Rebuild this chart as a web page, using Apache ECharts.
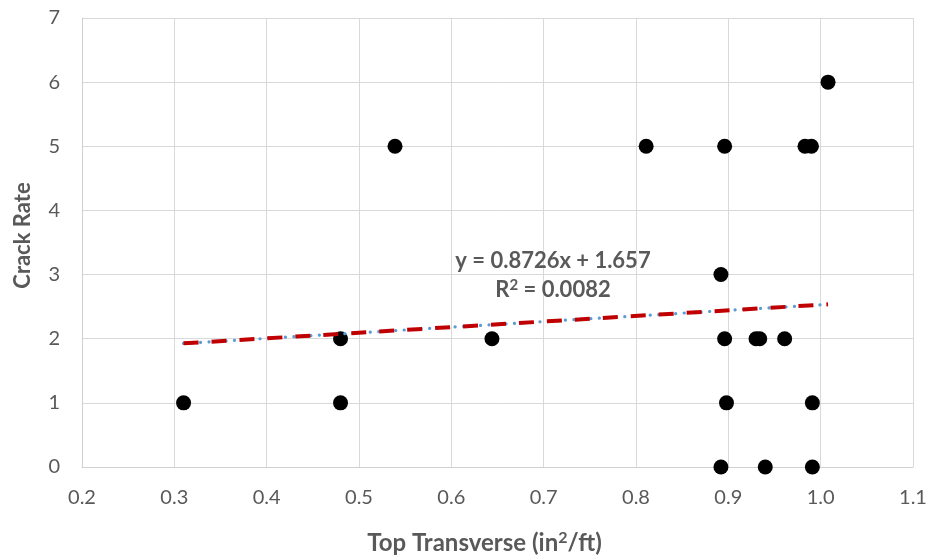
<!DOCTYPE html>
<html>
<head>
<meta charset="utf-8">
<script src="https://cdn.jsdelivr.net/npm/echarts@6/dist/echarts.min.js"></script>
<style>html,body{margin:0;padding:0;background:#fff}#c{width:930px;height:560px}</style>
</head>
<body>
<div id="c"></div>
<script>
// Data
const xValues = [0.31, 0.48, 0.48, 0.539, 0.644, 0.811, 0.896, 0.983, 0.990, 1.008, 0.892, 0.896, 0.930, 0.934, 0.961, 0.898, 0.991, 0.892, 0.940, 0.991];
const yValues = [1, 2, 1, 5, 2, 5, 5, 5, 5, 6, 3, 2, 2, 2, 2, 1, 1, 0, 0, 0];
const trendSlope = 0.8726;
const trendIntercept = 1.657;
const trendLabel1 = "y = 0.8726x + 1.657";
const trendLabel2 = "R{sup|2} = 0.0082";
const xAxisTitle = "Top Transverse (in{sup|2}/ft)";
const yAxisTitle = "Crack Rate";

const points = xValues.map((x, i) => [x, yValues[i]]);
const xMin = Math.min(...xValues), xMax = Math.max(...xValues);
const trend = [[xMin, trendSlope * xMin + trendIntercept], [xMax, trendSlope * xMax + trendIntercept]];

const FONT = 'Lato, "Open Sans", sans-serif';
const GREY = '#595959';
const supStyle = (size) => ({fontFamily: FONT, fontSize: size, fontWeight: 'bold', color: GREY, verticalAlign: 'top', padding: [0, 0, Math.round(size * 0.6), 0]});
const labelStyle = {fontFamily: FONT, fontSize: 22, fontWeight: 'bold', color: GREY, rich: {sup: supStyle(15)}};

const chart = echarts.init(document.getElementById('c'), null, {renderer: 'canvas'});
chart.setOption({
  animation: false,
  backgroundColor: '#ffffff',
  title: [
    {text: trendLabel1, left: 553, top: 250, textAlign: 'center', padding: 0, textStyle: labelStyle},
    {text: trendLabel2, left: 553, top: 278, textAlign: 'center', padding: 0, textStyle: labelStyle}
  ],
  grid: {left: 82, right: 17, top: 18, bottom: 92, containLabel: false},
  xAxis: {
    type: 'value', min: 0.2, max: 1.1, interval: 0.1,
    name: xAxisTitle, nameLocation: 'middle', nameGap: 63,
    nameTextStyle: {fontFamily: FONT, fontSize: 24, fontWeight: 'bold', color: GREY, padding: [0, 26, 0, 0],
      rich: {sup: supStyle(16)}},
    axisLine: {show: true, onZero: false, lineStyle: {color: '#d0d0d0', width: 1}},
    axisTick: {show: false},
    axisLabel: {margin: 21, fontFamily: FONT, fontSize: 20, color: GREY, formatter: v => v.toFixed(1)},
    splitLine: {show: true, lineStyle: {color: '#d9d9d9', width: 1}}
  },
  yAxis: {
    type: 'value', min: 0, max: 7, interval: 1,
    name: yAxisTitle, nameLocation: 'middle', nameGap: 48, nameRotate: 90,
    nameTextStyle: {fontFamily: FONT, fontSize: 22, fontWeight: 'bold', color: GREY, padding: [0, 0, 0, 14]},
    axisLine: {show: true, lineStyle: {color: '#d0d0d0', width: 1}},
    axisTick: {show: false},
    axisLabel: {margin: 22, fontFamily: FONT, fontSize: 20, color: GREY},
    splitLine: {show: true, lineStyle: {color: '#d9d9d9', width: 1}}
  },
  series: [
    {
      type: 'scatter', data: points, symbol: 'circle', symbolSize: 15,
      itemStyle: {color: '#000000', opacity: 1}, z: 2
    },
    {
      type: 'line', data: trend, showSymbol: false, symbol: 'none', z: 3,
      lineStyle: {color: '#5b9bd5', width: 3.2, type: [0.1, 8.4], cap: 'round'}
    },
    {
      type: 'line', data: trend, showSymbol: false, symbol: 'none', z: 4,
      lineStyle: {color: '#c00000', width: 4, type: [15, 13], cap: 'butt'}
    }
  ]
});
</script>
</body>
</html>
